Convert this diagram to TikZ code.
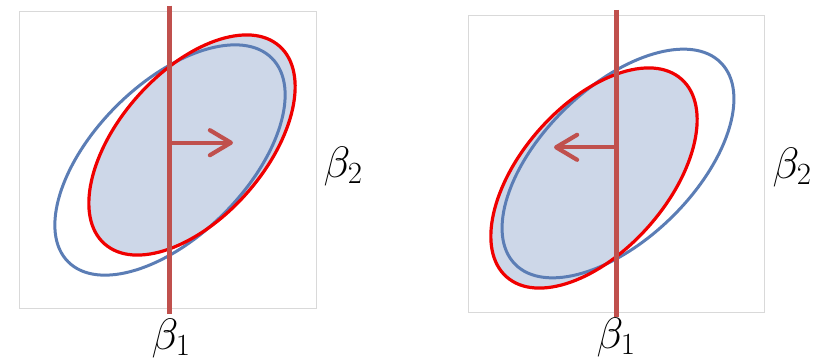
\RequirePackage{fix-cm}
\documentclass[tikz,border=0pt]{standalone}
\usetikzlibrary{arrows.meta}
\definecolor{ellblue}{HTML}{5B7DB5}
\definecolor{ellfill}{HTML}{CDD7E8}
\definecolor{ellred}{HTML}{F00000}
\definecolor{linered}{HTML}{C0504D}
\definecolor{boxgray}{HTML}{D9D9D9}
\begin{document}
\begin{tikzpicture}[x=1pt,y=-1pt,
  panelbox/.style={draw=boxgray, line width=1pt},
  blueell/.style={draw=ellblue, line width=3pt},
  redell/.style={draw=ellred, line width=3.2pt},
  redfill/.style={fill=ellfill},
  betaline/.style={draw=linered, line width=4.5pt},
  shiftarrow/.style={draw=linered, line width=4.2pt, -{Straight Barb[length=21pt,width=25pt,round]}},
  lab/.style={inner sep=0pt, font=\fontsize{44}{48}\selectfont}]
\useasboundingbox (0,0) rectangle (825,361);
% ---------- left panel ----------
\draw[panelbox] (19.3,11.7) rectangle (316.7,308.3);
\fill[redfill, rotate around={48.5:(192,145)}] (192,145) ellipse [x radius=132pt, y radius=73pt];
\draw[blueell, rotate around={45:(170,160)}] (170,160) ellipse [x radius=144pt, y radius=76pt];
\draw[redell, rotate around={48.5:(192,145)}] (192,145) ellipse [x radius=132pt, y radius=73pt];
\coordinate (lineLtop) at (169.5,5.7);
\coordinate (lineLbot) at (169.5,314);
\coordinate (arrLstart) at (169.5,142.7);
\coordinate (arrLend) at (233,142.7);
\draw[betaline] (lineLtop) -- (lineLbot);
\draw[shiftarrow] (arrLstart) -- (arrLend);
\node[lab] (b1L) at (171,338) {$\beta_1$};
\node[lab] (b2L) at (343,166) {$\beta_2$};
% ---------- right panel ----------
\draw[panelbox] (468.7,15.7) rectangle (764.7,312.3);
\fill[redfill, rotate around={48.5:(594,178)}] (594,178) ellipse [x radius=132pt, y radius=73pt];
\draw[blueell, rotate around={44.3:(618,163.5)}] (618,163.5) ellipse [x radius=144pt, y radius=76pt];
\draw[redell, rotate around={48.5:(594,178)}] (594,178) ellipse [x radius=132pt, y radius=73pt];
\coordinate (lineRtop) at (616.3,10);
\coordinate (lineRbot) at (616.3,316.7);
\coordinate (arrRstart) at (616.3,147.3);
\coordinate (arrRend) at (554,147.3);
\draw[betaline] (lineRtop) -- (lineRbot);
\draw[shiftarrow] (arrRstart) -- (arrRend);
\node[lab] (b1R) at (616,337) {$\beta_1$};
\node[lab] (b2R) at (792,167) {$\beta_2$};
\end{tikzpicture}
\end{document}
